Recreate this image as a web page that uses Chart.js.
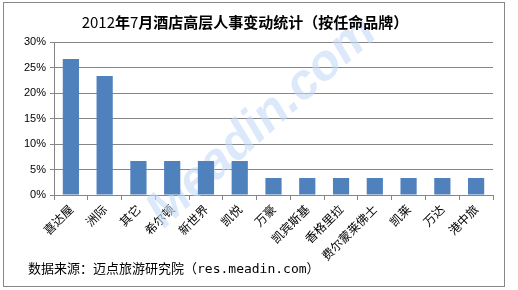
<!DOCTYPE html>
<html>
<head>
  <meta charset="utf-8">
  <title>2012年7月酒店高层人事变动统计</title>
  <script src="https://cdn.jsdelivr.net/npm/chart.js"></script>
  <style>
    body { margin: 0; background: #fff; }
    .wrap { position: relative; width: 518px; height: 290px; }
    .frame { position: absolute; left: 3px; top: 2px; width: 500px; height: 283px; border: 1px solid #878787; pointer-events: none; }
    canvas { position: absolute; left: 0; top: 0; }
  </style>
</head>
<body>
  <div class="wrap">
    <canvas id="chart" width="518" height="290"></canvas>
    <div class="frame"></div>
  </div>

  <script>
    // 数据（占比，%）
    const brands = ['喜达屋', '洲际', '其它', '希尔顿', '新世界', '凯悦', '万豪', '凯宾斯基', '香格里拉', '费尔蒙莱佛士', '凯莱', '万达', '港中旅'];
    const shares = [26.67, 23.33, 6.67, 6.67, 6.67, 6.67, 3.33, 3.33, 3.33, 3.33, 3.33, 3.33, 3.33];
    const titleText = '2012年7月酒店高层人事变动统计（按任命品牌）';
    const sourceText = '数据来源：迈点旅游研究院（res.meadin.com）';

    const cjk = '"Noto Sans CJK SC", sans-serif';

    // 标题、来源和水印
    const textPlugin = {
      id: 'texts',
      beforeDatasetsDraw(chart) {
        const ctx = chart.ctx;
        ctx.save();
        ctx.translate(262, 122);
        ctx.rotate(-42 * Math.PI / 180);
        ctx.font = 'italic bold 50px "Liberation Sans", Arial, sans-serif';
        ctx.fillStyle = 'rgba(196, 218, 246, 0.6)';
        ctx.textAlign = 'center';
        ctx.textBaseline = 'middle';
        ctx.fillText('Meadin.com', 0, 0);
        ctx.restore();
      },
      afterDraw(chart) {
        const ctx = chart.ctx;
        ctx.save();
        ctx.fillStyle = '#000';
        ctx.textBaseline = 'middle';
        // 标题：数字细体，汉字粗体
        const parts = titleText.split(/(\d+)/).filter(s => s);
        const fontOf = s => (/^\d+$/.test(s) ? '15px ' : 'bold 15px ') + cjk;
        let total = 0;
        parts.forEach(s => { ctx.font = fontOf(s); total += ctx.measureText(s).width; });
        let x = 245 - total / 2;
        ctx.textAlign = 'left';
        parts.forEach(s => { ctx.font = fontOf(s); ctx.fillText(s, x, 22); x += ctx.measureText(s).width; });
        ctx.font = '13px "DejaVu Sans Mono", ' + cjk;
        ctx.fillText(sourceText, 28, 270);
        ctx.restore();
      }
    };

    new Chart(document.getElementById('chart'), {
      type: 'bar',
      data: {
        labels: brands,
        datasets: [{
          data: shares,
          backgroundColor: '#4F81BD',
          categoryPercentage: 1,
          barPercentage: 0.48
        }]
      },
      options: {
        responsive: false,
        animation: false,
        layout: { padding: { top: 42, right: 25, bottom: 0, left: 0 } },
        plugins: { legend: { display: false }, tooltip: { enabled: false } },
        scales: {
          x: {
            grid: { offset: true, drawOnChartArea: false, tickLength: 5, color: '#868686' },
            border: { color: '#868686' },
            ticks: {
              autoSkip: false, minRotation: 45, maxRotation: 45, padding: 2,
              color: '#000', font: { size: 12, family: cjk }
            },
            afterFit(scale) { scale.height = 95; }
          },
          y: {
            min: 0, max: 30,
            grid: { color: '#868686', tickLength: 4 },
            border: { color: '#868686' },
            ticks: {
              stepSize: 5, padding: 4, color: '#000',
              font: { size: 11, family: '"Liberation Sans", Arial, sans-serif' },
              callback: v => v + '%'
            },
            afterFit(scale) { scale.width = 54; }
          }
        }
      },
      plugins: [textPlugin]
    });
  </script>
</body>
</html>
